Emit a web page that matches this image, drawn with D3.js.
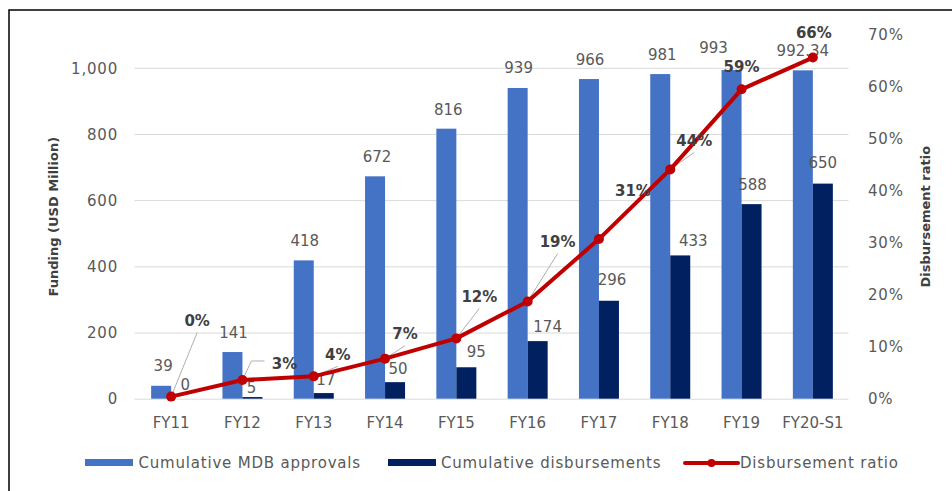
<!DOCTYPE html>
<html>
<head>
<meta charset="utf-8">
<script src="https://cdn.jsdelivr.net/npm/d3@7/dist/d3.min.js"></script>
<style>
  html, body { margin: 0; padding: 0; background: #fff; }
  svg { display: block; font-family: "DejaVu Sans", Verdana, sans-serif; }
</style>
</head>
<body>
<svg id="chart" width="952" height="491"></svg>
<script>
// ---- data ----
const categories = ["FY11","FY12","FY13","FY14","FY15","FY16","FY17","FY18","FY19","FY20-S1"];
const approvals = [39, 141, 418, 672, 816, 939, 966, 981, 993, 992.34];
const disbursements = [0, 5, 17, 50, 95, 174, 296, 433, 588, 650];
const ratio = [0.004, 0.036, 0.043, 0.077, 0.116, 0.187, 0.307, 0.441, 0.595, 0.656];
const ratioLabels = ["0%","3%","4%","7%","12%","19%","31%","44%","59%","66%"];
const leftTicks = [0, 200, 400, 600, 800, 1000];
const rightTicks = [0, 0.1, 0.2, 0.3, 0.4, 0.5, 0.6, 0.7];
const seriesNames = ["Cumulative MDB approvals", "Cumulative disbursements", "Disbursement ratio"];

// ---- label nudges (layout, not data) ----
const apprNudge = [[2,-20],[1,-19],[1,-20],[2,-20],[2,-19],[1,-20],[1,-19],[2,-19],[-18,-22],[0,-20]];
const disbNudge = [[4,-14],[-1,-9],[2,-13],[3,-13],[10,-16],[10,-14],[3,-21],[13,-15],[1,-19],[0,-21]];
const ratioNudge = [[26,-76],[42,-16],[24,-22],[20,-25],[23,-42],[30,-60],[34,-48],[24,-29],[0,-23],[1,-25]];
const leaderType = ["straight","elbow","straight","straight","straight","straight","none","straight","none","none"];

// ---- colors ----
const cBlue = "#4472C4", cNavy = "#002060", cRed = "#C00000", cText = "#595959", cBold = "#404040", cGrid = "#D9D9D9";

const svg = d3.select("#chart");
const m = { left: 135.5, right: 848.5, top: 34.7, bottom: 398.7 };

// border
svg.append("rect").attr("x", 9).attr("y", 10).attr("width", 1000).attr("height", 600)
  .attr("fill", "none").attr("stroke", "#000").attr("stroke-width", 1.5);

const x = d3.scaleBand().domain(categories).range([m.left, m.right]).paddingInner(0).paddingOuter(0);
const yL = d3.scaleLinear().domain([0, 1100]).range([m.bottom, m.top]);
const yR = d3.scaleLinear().domain([0, 0.7]).range([m.bottom, m.top]);
const barW = 20;
const cx = c => x(c) + x.bandwidth() / 2;

// gridlines (left axis)
const grid = d3.axisLeft(yL).tickValues(leftTicks).tickSize(-(m.right - m.left + 1)).tickFormat("");
svg.append("g").attr("transform", `translate(${m.left - 1},0)`).call(grid)
  .call(g => g.select(".domain").remove())
  .call(g => g.selectAll("line").attr("stroke", cGrid).attr("stroke-width", 1));

// left axis labels
const axL = d3.axisLeft(yL).tickValues(leftTicks).tickSize(0).tickPadding(0).tickFormat(d3.format(","));
svg.append("g").attr("transform", `translate(118,0)`).call(axL)
  .call(g => g.select(".domain").remove())
  .call(g => g.selectAll("text").attr("fill", cText).attr("font-size", 15)
    .attr("font-family", "DejaVu Sans").attr("letter-spacing", 0.8).attr("dy", "0.35em"));

// right axis labels
const axR = d3.axisRight(yR).tickValues(rightTicks).tickSize(0).tickPadding(0).tickFormat(d3.format(".0%"));
svg.append("g").attr("transform", `translate(868,0)`).call(axR)
  .call(g => g.select(".domain").remove())
  .call(g => g.selectAll("text").attr("fill", cText).attr("font-size", 15)
    .attr("font-family", "DejaVu Sans").attr("letter-spacing", 0.8).attr("dy", "0.35em"));

// category axis labels
const axB = d3.axisBottom(x).tickSize(0).tickPadding(0);
svg.append("g").attr("transform", `translate(0,${m.bottom})`).call(axB)
  .call(g => g.select(".domain").remove())
  .call(g => g.selectAll("text").attr("fill", cText).attr("font-size", 15)
    .attr("font-family", "DejaVu Sans").attr("y", 24).attr("dy", "0.35em"));

// axis titles
svg.append("text").attr("transform", `translate(53,${(m.top + m.bottom) / 2}) rotate(-90)`)
  .attr("text-anchor", "middle").attr("dy", "0.35em").attr("font-size", 13).attr("font-weight", "bold")
  .attr("fill", cBold).text("Funding (USD Million)");
svg.append("text").attr("transform", `translate(925,${(m.top + m.bottom) / 2}) rotate(-90)`)
  .attr("text-anchor", "middle").attr("dy", "0.35em").attr("font-size", 13).attr("font-weight", "bold")
  .attr("fill", cBold).text("Disbursement ratio");

// bars
const gBars = svg.append("g");
gBars.selectAll("rect.appr").data(categories).join("rect").attr("class", "appr")
  .attr("x", c => cx(c) - barW).attr("width", barW)
  .attr("y", (c, i) => yL(approvals[i])).attr("height", (c, i) => yL(0) - yL(approvals[i]))
  .attr("fill", cBlue);
gBars.selectAll("rect.disb").data(categories).join("rect").attr("class", "disb")
  .attr("x", c => cx(c)).attr("width", barW)
  .attr("y", (c, i) => yL(disbursements[i])).attr("height", (c, i) => yL(0) - yL(disbursements[i]))
  .attr("fill", cNavy);

// bar value labels
const gLab = svg.append("g").attr("font-size", 15).attr("fill", cText).attr("text-anchor", "middle");
gLab.selectAll("text.al").data(categories).join("text").attr("class", "al")
  .attr("x", (c, i) => cx(c) - barW / 2 + apprNudge[i][0])
  .attr("y", (c, i) => yL(approvals[i]) + apprNudge[i][1]).attr("dy", "0.35em")
  .text((c, i) => String(approvals[i]));
gLab.selectAll("text.dl").data(categories).join("text").attr("class", "dl")
  .attr("x", (c, i) => cx(c) + barW / 2 + disbNudge[i][0])
  .attr("y", (c, i) => yL(disbursements[i]) + disbNudge[i][1]).attr("dy", "0.35em")
  .text((c, i) => String(disbursements[i]));

// leader lines for ratio labels
const gLead = svg.append("g").attr("fill", "none").attr("stroke", "#A6A6A6").attr("stroke-width", 0.9);
categories.forEach((c, i) => {
  const px = cx(c), py = yR(ratio[i]);
  const lx = px + ratioNudge[i][0], ly = py + ratioNudge[i][1];
  if (leaderType[i] === "straight") {
    gLead.append("path").attr("d", d3.line()([[px, py], [lx, ly + 12]]));
  } else if (leaderType[i] === "elbow") {
    const left = lx - 13;
    gLead.append("path").attr("d", d3.line()([[px, py], [left - 20, ly - 3], [left - 7, ly - 3]]));
  }
});

// ratio line
const pts = categories.map((c, i) => [cx(c), yR(ratio[i])]);
svg.append("path").attr("d", d3.line()(pts)).attr("fill", "none")
  .attr("stroke", cRed).attr("stroke-width", 4).attr("stroke-linejoin", "round");
svg.append("g").selectAll("circle").data(pts).join("circle")
  .attr("cx", d => d[0]).attr("cy", d => d[1]).attr("r", 5).attr("fill", cRed);

// ratio labels
svg.append("g").attr("font-size", 15).attr("font-weight", "bold").attr("fill", cBold).attr("text-anchor", "middle")
  .selectAll("text").data(categories).join("text")
  .attr("x", (c, i) => cx(c) + ratioNudge[i][0])
  .attr("y", (c, i) => yR(ratio[i]) + ratioNudge[i][1]).attr("dy", "0.35em")
  .text((c, i) => ratioLabels[i]);

// legend
const lg = svg.append("g").attr("font-size", 15).attr("fill", cText).attr("letter-spacing", 0.8);
const ly0 = 463;
lg.append("rect").attr("x", 85).attr("y", ly0 - 4).attr("width", 48).attr("height", 7).attr("fill", cBlue);
lg.append("text").attr("x", 138.5).attr("y", ly0).attr("dy", "0.35em").text(seriesNames[0]);
lg.append("rect").attr("x", 388).attr("y", ly0 - 4).attr("width", 48).attr("height", 7).attr("fill", cNavy);
lg.append("text").attr("x", 441).attr("y", ly0).attr("dy", "0.35em").text(seriesNames[1]);
lg.append("line").attr("x1", 685).attr("x2", 738).attr("y1", ly0).attr("y2", ly0)
  .attr("stroke", cRed).attr("stroke-width", 4).attr("stroke-linecap", "round");
lg.append("circle").attr("cx", 711.5).attr("cy", ly0).attr("r", 4).attr("fill", cRed);
lg.append("text").attr("x", 740).attr("y", ly0).attr("dy", "0.35em").text(seriesNames[2]);
</script>
</body>
</html>
